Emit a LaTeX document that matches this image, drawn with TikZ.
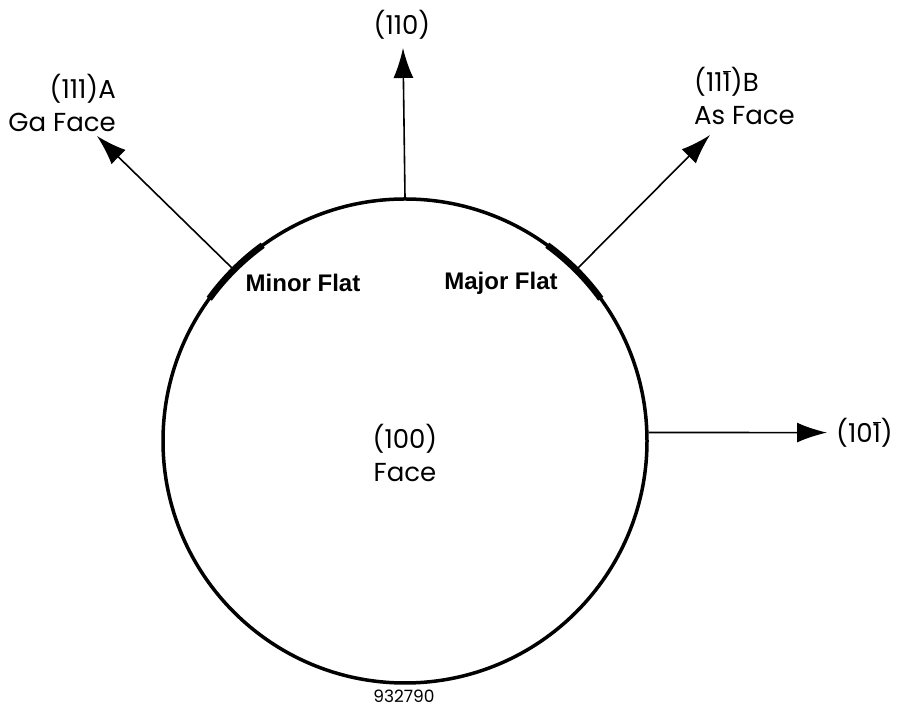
\documentclass[tikz,border=0pt]{standalone}
\usepackage{fontspec}
\setmainfont{Poppins}
\newfontfamily\flatfont{Liberation Sans}
\usetikzlibrary{arrows.meta}
\newcommand{\bone}{\ensuremath{\overline{\mbox{1}}}}

\tikzset{
	dir/.style={line width=1.6pt, -{Latex[length=30pt,width=20pt]}},
	flat/.style={line width=6.5pt},
	lbl/.style={inner sep=0pt, font=\fontsize{26}{33}\selectfont},
	flatlbl/.style={inner sep=0pt, font=\flatfont\bfseries\fontsize{24}{28}\selectfont}
}

\begin{document}
\begin{tikzpicture}[x=1pt,y=1pt]
		\useasboundingbox (0,0) rectangle (906,709);
		% 晶片
		\node[draw, circle, minimum size=484pt, inner sep=0pt, line width=3.5pt] (wafer) at (405,268) {};
		% 两个切边
		\draw[flat] ([shift={(126:242)}]wafer.center) arc (126:144:242);
		\draw[flat] ([shift={(36:242)}]wafer.center) arc (36:54:242);
		\node[flatlbl] (minor) at (303,426) {Minor Flat};
		\node[flatlbl] (major) at (501,426) {Major Flat};
		\node[lbl, align=center] (face) at (405,256) {(100)\\Face};
		% 箭头端点
		\coordinate (tipN) at (403,661);
		\coordinate (tipNW) at (97,573);
		\coordinate (tipNE) at (710,574);
		\coordinate (tipE) at (827,276.4);
		% 方向
		\draw[dir] (wafer.90) -- (tipN);
		\draw[dir] (wafer.135) -- (tipNW);
		\draw[dir] (wafer.45) -- (tipNE);
		\draw[dir] (wafer.2) -- (tipE);
		\node[lbl] (n110) at (402,684) {(110)};
		\node[lbl, align=right, anchor=east] (nA) at (116,606) {(111)A\\Ga Face};
		\node[lbl, align=left, anchor=west] (nB) at (694,613) {(11\bone)B\\As Face};
		\node[lbl, anchor=west] (n101) at (836,276) {(10\bone)};
		\node[inner sep=0pt, font=\fontsize{17}{19}\selectfont] (num) at (404,13) {932790};
		\end{tikzpicture}
\end{document}
